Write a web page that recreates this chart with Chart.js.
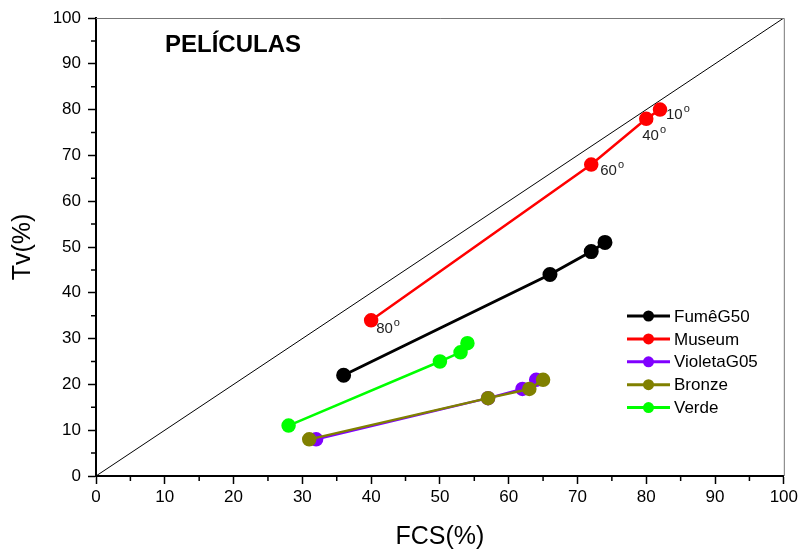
<!DOCTYPE html>
<html>
<head>
<meta charset="utf-8">
<script src="https://cdn.jsdelivr.net/npm/chart.js@4.4.0/dist/chart.umd.min.js"></script>
<style>
  html, body { margin: 0; padding: 0; background: #fff; }
  #wrap { width: 801px; height: 552px; }
</style>
</head>
<body>
<div id="wrap"><canvas id="grafico" width="801" height="552"></canvas></div>
<script>
// ---- dados ----
const nomes = ["FumêG50", "Museum", "VioletaG05", "Bronze", "Verde"];
const cores = ["#000000", "#ff0000", "#8000ff", "#808000", "#00ff00"];

const fumeX = [36, 66, 72, 74];
const fumeY = [22, 44, 49, 51];
const museumX = [40, 72, 80, 82];
const museumY = [34, 68, 78, 80];
const violetaX = [32, 57, 62, 64];
const violetaY = [8, 17, 19, 21];
const bronzeX = [31, 57, 63, 65];
const bronzeY = [8, 17, 19, 21];
const verdeX = [28, 50, 53, 54];
const verdeY = [11, 25, 27, 29];

// angulos de incidencia (Museum)
const angulos = ["80", "60", "40", "10"];

const ticksX = [0, 10, 20, 30, 40, 50, 60, 70, 80, 90, 100];
const ticksY = [0, 10, 20, 30, 40, 50, 60, 70, 80, 90, 100];

const FONTE = "'Liberation Sans', Arial, sans-serif";

function pares(xs, ys) {
  return xs.map((x, i) => ({ x: x, y: ys[i] }));
}

const series = [
  pares(fumeX, fumeY),
  pares(museumX, museumY),
  pares(violetaX, violetaY),
  pares(bronzeX, bronzeY),
  pares(verdeX, verdeY)
];

// ordem de desenho: bronze por cima do violeta
const ordem = [2, 0, 4, 3, 1];

const datasets = series.map((d, i) => ({
  label: nomes[i],
  data: d,
  borderColor: cores[i],
  backgroundColor: cores[i],
  pointBackgroundColor: cores[i],
  pointBorderColor: cores[i],
  pointRadius: 6,
  pointHoverRadius: 6,
  borderWidth: i === 0 ? 3 : 2.5,
  showLine: true,
  order: ordem[i]
}));

// diagonal
datasets.push({
  label: "diag",
  data: [{ x: 0, y: 0 }, { x: 100, y: 100 }],
  borderColor: "#000",
  borderWidth: 1,
  pointRadius: 0,
  showLine: true,
  order: 9
});

// -------------------------------
// plugin: moldura, ticks menores, textos, legenda
// -------------------------------
const extras = {
  id: "extras",
  afterDatasetsDraw(chart) {
    const ctx = chart.ctx;
    const a = chart.chartArea;
    const sx = chart.scales.x, sy = chart.scales.y;
    ctx.save();

    // moldura fina (topo e direita)
    ctx.strokeStyle = "#777";
    ctx.lineWidth = 1;
    ctx.beginPath();
    ctx.moveTo(a.left, a.top + 0.5);
    ctx.lineTo(a.right + 0.5, a.top + 0.5);
    ctx.lineTo(a.right + 0.5, a.bottom);
    ctx.stroke();

    // ticks menores
    ctx.strokeStyle = "#000";
    ctx.lineWidth = 1.5;
    ctx.beginPath();
    for (let v = 5; v < 100; v += 10) {
      const px = sx.getPixelForValue(v);
      ctx.moveTo(px, a.bottom);
      ctx.lineTo(px, a.bottom + 5);
      const py = sy.getPixelForValue(v);
      ctx.moveTo(a.left, py);
      ctx.lineTo(a.left - 5, py);
    }
    ctx.stroke();

    // titulo interno
    ctx.fillStyle = "#000";
    ctx.font = "bold 24px " + FONTE;
    ctx.textBaseline = "middle";
    ctx.textAlign = "left";
    ctx.fillText("PELÍCULAS", a.left + 69, a.top + 27);

    // angulos
    const desloc = [[5, 13], [9, 10], [-4, 21], [6, 9]];
    ctx.textBaseline = "alphabetic";
    museumX.forEach((x, i) => {
      const px = sx.getPixelForValue(x) + desloc[i][0];
      const py = sy.getPixelForValue(museumY[i]) + desloc[i][1];
      ctx.font = "15px " + FONTE;
      ctx.fillStyle = "#222";
      ctx.fillText(angulos[i], px, py);
      const w = ctx.measureText(angulos[i]).width;
      ctx.font = "11px " + FONTE;
      ctx.fillText("o", px + w + 1, py - 7);
    });

    // legenda
    const lx = 627, ly = 316, passo = 22.9;
    ctx.font = "17px " + FONTE;
    ctx.textBaseline = "middle";
    nomes.forEach((n, i) => {
      const y = ly + i * passo;
      ctx.strokeStyle = cores[i];
      ctx.lineWidth = 3;
      ctx.beginPath();
      ctx.moveTo(lx, y);
      ctx.lineTo(lx + 43, y);
      ctx.stroke();
      ctx.fillStyle = cores[i];
      ctx.beginPath();
      ctx.arc(lx + 21.5, y, 5.5, 0, Math.PI * 2);
      ctx.fill();
      ctx.fillStyle = "#000";
      ctx.fillText(n, lx + 47, y + 1);
    });

    ctx.restore();
  }
};

function eixo(ticks, titulo, eixoY) {
  return {
    type: "linear",
    min: 0,
    max: 100,
    afterBuildTicks(scale) {
      scale.ticks = ticks.map(v => ({ value: v }));
    },
    afterFit(scale) {
      if (eixoY) scale.width = 96; else scale.height = 76;
    },
    border: { display: true, color: "#000", width: 2 },
    grid: {
      drawOnChartArea: false,
      drawTicks: true,
      tickLength: 8,
      tickColor: "#000",
      tickWidth: 1.5
    },
    ticks: {
      color: "#000",
      font: { family: FONTE, size: 17 },
      padding: eixoY ? 7 : 3,
      maxRotation: 0,
      autoSkip: false
    },
    title: {
      display: true,
      text: titulo,
      color: "#000",
      font: { family: FONTE, size: 25 },
      padding: eixoY ? { top: 8, bottom: 0 } : { top: 0, bottom: 0 }
    }
  };
}

new Chart(document.getElementById("grafico"), {
  type: "scatter",
  data: { datasets: datasets },
  options: {
    responsive: false,
    animation: false,
    layout: { padding: { top: 18, right: 16, left: 0, bottom: 0 } },
    plugins: {
      legend: { display: false },
      tooltip: { enabled: false }
    },
    scales: {
      x: eixo(ticksX, "FCS(%)", false),
      y: eixo(ticksY, "Tv(%)", true)
    }
  },
  plugins: [extras]
});
</script>
</body>
</html>
